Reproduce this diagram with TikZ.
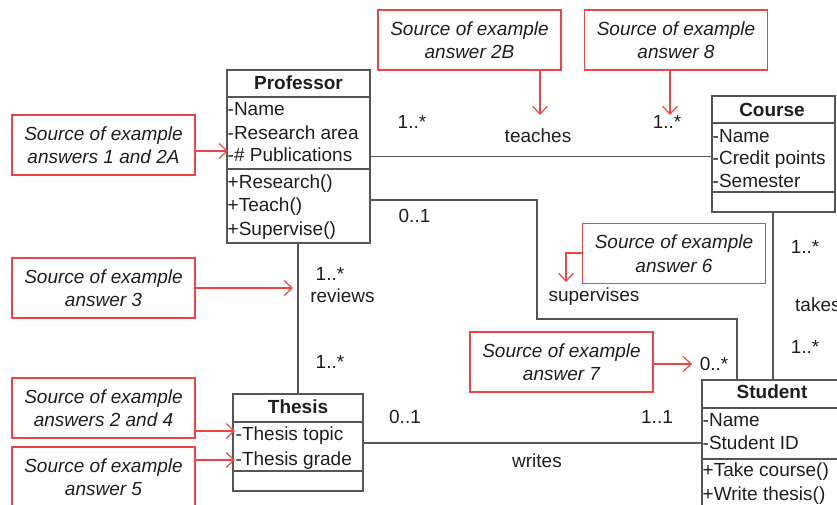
\documentclass[tikz,border=0pt]{standalone}
\usepackage{fontspec}
\setmainfont{Liberation Sans}
\usetikzlibrary{arrows.meta}
\definecolor{lgray}{RGB}{85,85,85}
\definecolor{ared}{RGB}{238,68,68}
\definecolor{txt}{RGB}{30,30,30}
\newcommand\myfs{\fontsize{19}{23.5}\selectfont}
\begin{document}
\begin{tikzpicture}[x=1pt,y=-1pt,
  classbox/.style={draw=lgray, line width=1.4pt, inner sep=0pt, outer sep=0pt},
  sepline/.style={draw=lgray, line width=1.4pt},
  conn/.style={draw=lgray, line width=1.4pt},
  attr/.style={anchor=west, inner sep=0pt, text height=13.6pt, text depth=0pt, font=\myfs, text=txt},
  ttl/.style={inner sep=0pt, text height=13.6pt, text depth=0pt, font=\myfs\bfseries, text=txt},
  lbl/.style={inner sep=0pt, text height=13.6pt, text depth=0pt, font=\myfs, text=txt},
  anno/.style={draw=ared, line width=1.2pt, minimum width=183pt, minimum height=60pt, align=center, font=\myfs\itshape, inner sep=0pt, text=txt},
  aarr/.style={draw=ared, line width=1.2pt, -{Straight Barb[length=8pt,width=15pt]}}
]
\useasboundingbox (0,0) rectangle (837,504);

% ---------- class boxes ----------
\node[classbox, minimum width=143pt, minimum height=173pt] (prof) at (298.5,156.5) {};
\draw[sepline] (prof.west |- 0,97) -- (prof.east |- 0,97);
\draw[sepline] (prof.west |- 0,169) -- (prof.east |- 0,169);
\node[ttl] (proft) at (298.5,83) {Professor};
\node[attr] (p1) at (227.5,109) {-Name};
\node[attr] (p2) at (227.5,132.5) {-Research area};
\node[attr] (p3) at (227.5,155) {-\# Publications};
\node[attr] (p4) at (227.5,181.5) {+Research()};
\node[attr] (p5) at (227.5,205) {+Teach()};
\node[attr] (p6) at (227.5,228.5) {+Supervise()};

\node[classbox, minimum width=123pt, minimum height=116pt] (course) at (773.5,154) {};
\draw[sepline] (course.west |- 0,123) -- (course.east |- 0,123);
\draw[sepline] (course.west |- 0,192) -- (course.east |- 0,192);
\node[ttl] (courset) at (772,109.5) {Course};
\node[attr] (c1) at (712.5,135.5) {-Name};
\node[attr] (c2) at (712.5,158) {-Credit points};
\node[attr] (c3) at (712.5,181) {-Semester};

\node[classbox, minimum width=140pt, minimum height=140pt] (student) at (772,450) {};
\draw[sepline] (student.west |- 0,408) -- (student.east |- 0,408);
\draw[sepline] (student.west |- 0,459) -- (student.east |- 0,459);
\node[ttl] (studentt) at (772,391.5) {Student};
\node[attr] (s1t) at (702.5,420) {-Name};
\node[attr] (s2t) at (702.5,443) {-Student ID};
\node[attr] (s3t) at (702.5,470) {+Take course()};
\node[attr] (s4t) at (702.5,494) {+Write thesis()};

\node[classbox, minimum width=130pt, minimum height=97pt] (thesis) at (298,442.5) {};
\draw[sepline] (thesis.west |- 0,422) -- (thesis.east |- 0,422);
\draw[sepline] (thesis.west |- 0,471) -- (thesis.east |- 0,471);
\node[ttl] (thesist) at (298,406.5) {Thesis};
\node[attr] (t1) at (235.5,433.5) {-Thesis topic};
\node[attr] (t2) at (235.5,458.5) {-Thesis grade};

% ---------- connectors ----------
\draw[conn] (prof.east) -- (course.west |- prof.east);
\coordinate (sv1) at (537,200);
\coordinate (sv2) at (737,319);
\draw[conn] (prof.east |- sv1) -- (sv1) -- (sv1 |- sv2) -- (sv2) -- (sv2 |- student.north);
\draw[conn] (thesis.north) -- (thesis.north |- prof.south);
\coordinate (tk) at (773,300);
\draw[conn] (tk |- course.south) -- (tk |- student.north);
\coordinate (wr) at (500,443);
\draw[conn] (thesis.east |- wr) -- (student.west |- wr);

% ---------- association labels ----------
\node[lbl] (m1) at (412,122) {1..*};
\node[lbl] (teaches) at (538,136) {teaches};
\node[lbl] (m2) at (667,122) {1..*};
\node[lbl] (m3) at (414.5,216) {0..1};
\node[lbl] (supervises) at (594,295) {supervises};
\node[lbl] (m4) at (714,363.5) {0..*};
\node[lbl] (m5) at (330,273.5) {1..*};
\node[lbl] (reviews) at (342.5,296) {reviews};
\node[lbl] (m6) at (330,362) {1..*};
\node[lbl] (m7) at (805,246.5) {1..*};
\node[lbl, anchor=west] (takes) at (795,305) {takes};
\node[lbl] (m8) at (805,346.5) {1..*};
\node[lbl] (m9) at (405,416.5) {0..1};
\node[lbl] (m10) at (657,416.5) {1..1};
\node[lbl] (writes) at (537,461) {writes};

% ---------- annotations ----------
\node[anno] (a2b) at (469.5,40) {Source of example\\answer 2B};
\node[anno] (a8) at (676,40) {Source of example\\answer 8};
\node[anno] (a1) at (103.5,145) {Source of example\\answers 1 and 2A};
\node[anno] (a3) at (103.5,288) {Source of example\\answer 3};
\node[anno] (a24) at (103.5,408) {Source of example\\answers 2 and 4};
\node[anno] (a5) at (103.5,477) {Source of example\\answer 5};
\node[anno] (a6) at (674,253.5) {Source of example\\answer 6};
\node[anno] (a7) at (561.5,362) {Source of example\\answer 7};

\coordinate (e2b) at (540,115);
\draw[aarr] (a2b.south -| e2b) -- (e2b);
\coordinate (e8) at (670,115);
\draw[aarr] (a8.south -| e8) -- (e8);
\coordinate (e1) at (228,151);
\draw[aarr] (a1.east |- e1) -- (e1);
\coordinate (e3) at (293,288);
\draw[aarr] (a3.east |- e3) -- (e3);
\coordinate (e24) at (235,431);
\draw[aarr] (a24.east |- e24) -- (e24);
\coordinate (e5) at (235,460);
\draw[aarr] (a5.east |- e5) -- (e5);
\coordinate (e6) at (566,282);
\draw[aarr] (a6.west |- 0,253) -- (e6 |- 0,253) -- (e6);
\coordinate (e7) at (692,364);
\draw[aarr] (a7.east |- e7) -- (e7);
\end{tikzpicture}
\end{document}
